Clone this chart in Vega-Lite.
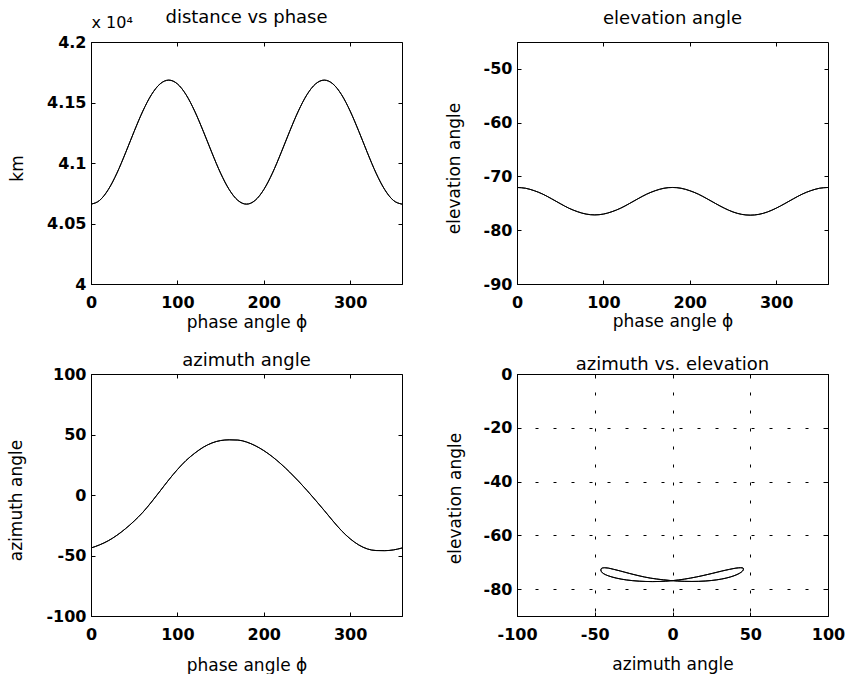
{
  "$schema": "https://vega.github.io/schema/vega-lite/v6.json",
  "padding": {"left": 6, "top": 8, "right": 2, "bottom": 0},
  "data": {"values": [
    {"phase": 0, "distance_km": 40660, "elevation_deg": -72.05, "azimuth_deg": -43.8},
    {"phase": 10, "distance_km": 40691, "elevation_deg": -72.2, "azimuth_deg": -41.2},
    {"phase": 20, "distance_km": 40780, "elevation_deg": -72.65, "azimuth_deg": -37.8},
    {"phase": 30, "distance_km": 40916, "elevation_deg": -73.3, "azimuth_deg": -33.3},
    {"phase": 40, "distance_km": 41084, "elevation_deg": -74.15, "azimuth_deg": -27.8},
    {"phase": 50, "distance_km": 41262, "elevation_deg": -75.05, "azimuth_deg": -21.5},
    {"phase": 60, "distance_km": 41429, "elevation_deg": -75.9, "azimuth_deg": -14.3},
    {"phase": 70, "distance_km": 41565, "elevation_deg": -76.55, "azimuth_deg": -5.8},
    {"phase": 80, "distance_km": 41654, "elevation_deg": -77.0, "azimuth_deg": 3.3},
    {"phase": 90, "distance_km": 41685, "elevation_deg": -77.15, "azimuth_deg": 12.5},
    {"phase": 100, "distance_km": 41654, "elevation_deg": -77.0, "azimuth_deg": 21},
    {"phase": 110, "distance_km": 41565, "elevation_deg": -76.55, "azimuth_deg": 28.5},
    {"phase": 120, "distance_km": 41429, "elevation_deg": -75.9, "azimuth_deg": 34.5},
    {"phase": 130, "distance_km": 41262, "elevation_deg": -75.05, "azimuth_deg": 39.5},
    {"phase": 140, "distance_km": 41084, "elevation_deg": -74.15, "azimuth_deg": 43},
    {"phase": 150, "distance_km": 40916, "elevation_deg": -73.3, "azimuth_deg": 45},
    {"phase": 160, "distance_km": 40780, "elevation_deg": -72.65, "azimuth_deg": 45.6},
    {"phase": 170, "distance_km": 40691, "elevation_deg": -72.2, "azimuth_deg": 45.4},
    {"phase": 180, "distance_km": 40660, "elevation_deg": -72.05, "azimuth_deg": 43.8},
    {"phase": 190, "distance_km": 40691, "elevation_deg": -72.2, "azimuth_deg": 40.8},
    {"phase": 200, "distance_km": 40780, "elevation_deg": -72.65, "azimuth_deg": 36.7},
    {"phase": 210, "distance_km": 40916, "elevation_deg": -73.3, "azimuth_deg": 31.6},
    {"phase": 220, "distance_km": 41084, "elevation_deg": -74.15, "azimuth_deg": 25.6},
    {"phase": 230, "distance_km": 41262, "elevation_deg": -75.05, "azimuth_deg": 18.9},
    {"phase": 240, "distance_km": 41429, "elevation_deg": -75.9, "azimuth_deg": 11.6},
    {"phase": 250, "distance_km": 41565, "elevation_deg": -76.6, "azimuth_deg": 3.8},
    {"phase": 260, "distance_km": 41654, "elevation_deg": -77.05, "azimuth_deg": -4.4},
    {"phase": 270, "distance_km": 41685, "elevation_deg": -77.2, "azimuth_deg": -12.8},
    {"phase": 280, "distance_km": 41654, "elevation_deg": -77.05, "azimuth_deg": -21.4},
    {"phase": 290, "distance_km": 41565, "elevation_deg": -76.6, "azimuth_deg": -29.5},
    {"phase": 300, "distance_km": 41429, "elevation_deg": -75.9, "azimuth_deg": -36.2},
    {"phase": 310, "distance_km": 41262, "elevation_deg": -75.05, "azimuth_deg": -41.3},
    {"phase": 320, "distance_km": 41084, "elevation_deg": -74.15, "azimuth_deg": -44.6},
    {"phase": 330, "distance_km": 40916, "elevation_deg": -73.3, "azimuth_deg": -45.9},
    {"phase": 340, "distance_km": 40780, "elevation_deg": -72.65, "azimuth_deg": -46},
    {"phase": 350, "distance_km": 40691, "elevation_deg": -72.2, "azimuth_deg": -45.4},
    {"phase": 360, "distance_km": 40660, "elevation_deg": -72.05, "azimuth_deg": -43.8}
  ]},
  "columns": 2,
  "bounds": "flush",
  "spacing": {"row": 90, "column": 115},
  "concat": [
    {
      "width": 311, "height": 242,
      "title": {"text": "distance vs phase", "offset": -13, "anchor": "middle"},
      "layer": [
        {"mark": {"type": "line", "color": "black", "strokeWidth": 1, "interpolate": "monotone"},
         "encoding": {
           "x": {"field": "phase", "type": "quantitative", "scale": {"domain": [0, 360], "nice": false},
                 "axis": {"orient": "bottom", "values": [0, 100, 200, 300], "title": "phase angle ϕ", "titleY": 30, "labelExpr": "'' + datum.value"}},
           "y": {"field": "distance_km", "type": "quantitative", "scale": {"domain": [40000, 42000], "nice": false, "zero": false},
                 "axis": {"orient": "left", "values": [40000, 40500, 41000, 41500, 42000], "labelExpr": "'' + datum.value/10000", "title": "km", "titleX": -65, "titleY": 126}}
         }},
        {"mark": {"type": "line", "color": "black", "strokeWidth": 1, "interpolate": "monotone"},
         "encoding": {
           "x": {"field": "phase", "type": "quantitative", "scale": {"domain": [0, 360], "nice": false},
                 "axis": {"orient": "top", "values": [0, 100, 200, 300], "labels": false, "domain": false, "title": "x 10⁴", "titleX": 0, "titleY": -15, "titleAlign": "left", "titleAnchor": "start", "titleBaseline": "alphabetic", "titleAngle": 0, "titleFontSize": 16}},
           "y": {"field": "distance_km", "type": "quantitative", "scale": {"domain": [40000, 42000], "nice": false, "zero": false},
                 "axis": {"orient": "right", "values": [40000, 40500, 41000, 41500, 42000], "labels": false, "domain": false, "title": null}}
         }}
      ],
      "resolve": {"axis": {"x": "independent", "y": "independent"}}
    },
    {
      "width": 311, "height": 242,
      "title": {"text": "elevation angle", "offset": 14, "anchor": "middle"},
      "layer": [
        {"mark": {"type": "line", "color": "black", "strokeWidth": 1, "interpolate": "monotone"},
         "encoding": {
           "x": {"field": "phase", "type": "quantitative", "scale": {"domain": [0, 360], "nice": false},
                 "axis": {"orient": "bottom", "values": [0, 100, 200, 300], "title": "phase angle ϕ", "titleY": 29, "labelExpr": "'' + datum.value"}},
           "y": {"field": "elevation_deg", "type": "quantitative", "scale": {"domain": [-90, -45], "nice": false, "zero": false},
                 "axis": {"orient": "left", "values": [-90, -80, -70, -60, -50], "labelExpr": "'' + datum.value", "title": "elevation angle", "titleX": -54, "titleY": 126}}
         }},
        {"mark": {"type": "line", "color": "black", "strokeWidth": 1, "interpolate": "monotone"},
         "encoding": {
           "x": {"field": "phase", "type": "quantitative", "scale": {"domain": [0, 360], "nice": false},
                 "axis": {"orient": "top", "values": [0, 100, 200, 300], "labels": false, "domain": false, "title": null}},
           "y": {"field": "elevation_deg", "type": "quantitative", "scale": {"domain": [-90, -45], "nice": false, "zero": false},
                 "axis": {"orient": "right", "values": [-90, -80, -70, -60, -50], "labels": false, "domain": false, "title": null}}
         }}
      ],
      "resolve": {"axis": {"x": "independent", "y": "independent"}}
    },
    {
      "width": 311, "height": 242,
      "title": {"text": "azimuth angle", "offset": -4, "anchor": "middle"},
      "layer": [
        {"mark": {"type": "line", "color": "black", "strokeWidth": 1, "interpolate": "monotone"},
         "encoding": {
           "x": {"field": "phase", "type": "quantitative", "scale": {"domain": [0, 360], "nice": false},
                 "axis": {"orient": "bottom", "values": [0, 100, 200, 300], "title": "phase angle ϕ", "titleY": 41, "labelExpr": "'' + datum.value"}},
           "y": {"field": "azimuth_deg", "type": "quantitative", "scale": {"domain": [-100, 100], "nice": false, "zero": false},
                 "axis": {"orient": "left", "values": [-100, -50, 0, 50, 100], "labelExpr": "'' + datum.value", "title": "azimuth angle", "titleX": -66, "titleY": 126}}
         }},
        {"mark": {"type": "line", "color": "black", "strokeWidth": 1, "interpolate": "monotone"},
         "encoding": {
           "x": {"field": "phase", "type": "quantitative", "scale": {"domain": [0, 360], "nice": false},
                 "axis": {"orient": "top", "values": [0, 100, 200, 300], "labels": false, "domain": false, "title": null}},
           "y": {"field": "azimuth_deg", "type": "quantitative", "scale": {"domain": [-100, 100], "nice": false, "zero": false},
                 "axis": {"orient": "right", "values": [-100, -50, 0, 50, 100], "labels": false, "domain": false, "title": null}}
         }}
      ],
      "resolve": {"axis": {"x": "independent", "y": "independent"}}
    },
    {
      "width": 311, "height": 242,
      "title": {"text": "azimuth vs. elevation", "offset": -8, "anchor": "middle"},
      "layer": [
        {"mark": {"type": "line", "color": "black", "strokeWidth": 1, "interpolate": "cardinal"},
         "encoding": {
           "x": {"field": "azimuth_deg", "type": "quantitative", "scale": {"domain": [-100, 100], "nice": false, "zero": false},
                 "axis": {"orient": "bottom", "values": [-100, -50, 0, 50, 100], "title": "azimuth angle", "titleY": 40, "labelExpr": "'' + datum.value", "grid": true, "gridColor": "black", "gridDash": [3, 15], "gridWidth": 1}},
           "y": {"field": "elevation_deg", "type": "quantitative", "scale": {"domain": [-90, 0], "nice": false, "zero": false},
                 "axis": {"orient": "left", "values": [-80, -60, -40, -20, 0], "labelExpr": "'' + datum.value", "title": "elevation angle", "titleX": -53, "titleY": 124, "grid": true, "gridColor": "black", "gridDash": [3, 15], "gridWidth": 1}},
           "order": {"field": "phase", "type": "quantitative"}
         }},
        {"mark": {"type": "line", "color": "black", "strokeWidth": 1, "interpolate": "cardinal"},
         "encoding": {
           "x": {"field": "azimuth_deg", "type": "quantitative", "scale": {"domain": [-100, 100], "nice": false, "zero": false},
                 "axis": {"orient": "top", "values": [-100, -50, 0, 50, 100], "labels": false, "domain": false, "title": null}},
           "y": {"field": "elevation_deg", "type": "quantitative", "scale": {"domain": [-90, 0], "nice": false, "zero": false},
                 "axis": {"orient": "right", "values": [-80, -60, -40, -20, 0], "labels": false, "domain": false, "title": null}},
           "order": {"field": "phase", "type": "quantitative"}
         }}
      ],
      "resolve": {"axis": {"x": "independent", "y": "independent"}}
    }
  ],
  "config": {
    "font": "DejaVu Sans",
    "background": "white",
    "view": {"stroke": "black", "strokeWidth": 1},
    "title": {"fontSize": 18, "fontWeight": "normal", "color": "black", "font": "DejaVu Sans"},
    "axis": {
      "domainColor": "black", "domainWidth": 1,
      "tickColor": "black", "tickWidth": 1, "tickSize": -4,
      "labelColor": "black", "labelFont": "DejaVu Sans", "labelFontSize": 16, "labelFontWeight": "bold",
      "titleColor": "black", "titleFont": "DejaVu Sans", "titleFontSize": 17, "titleFontWeight": "normal",
      "labelFlush": false, "labelOverlap": false, "grid": false
    },
    "axisX": {"labelPadding": 14},
    "axisY": {"labelPadding": 9}
  }
}
